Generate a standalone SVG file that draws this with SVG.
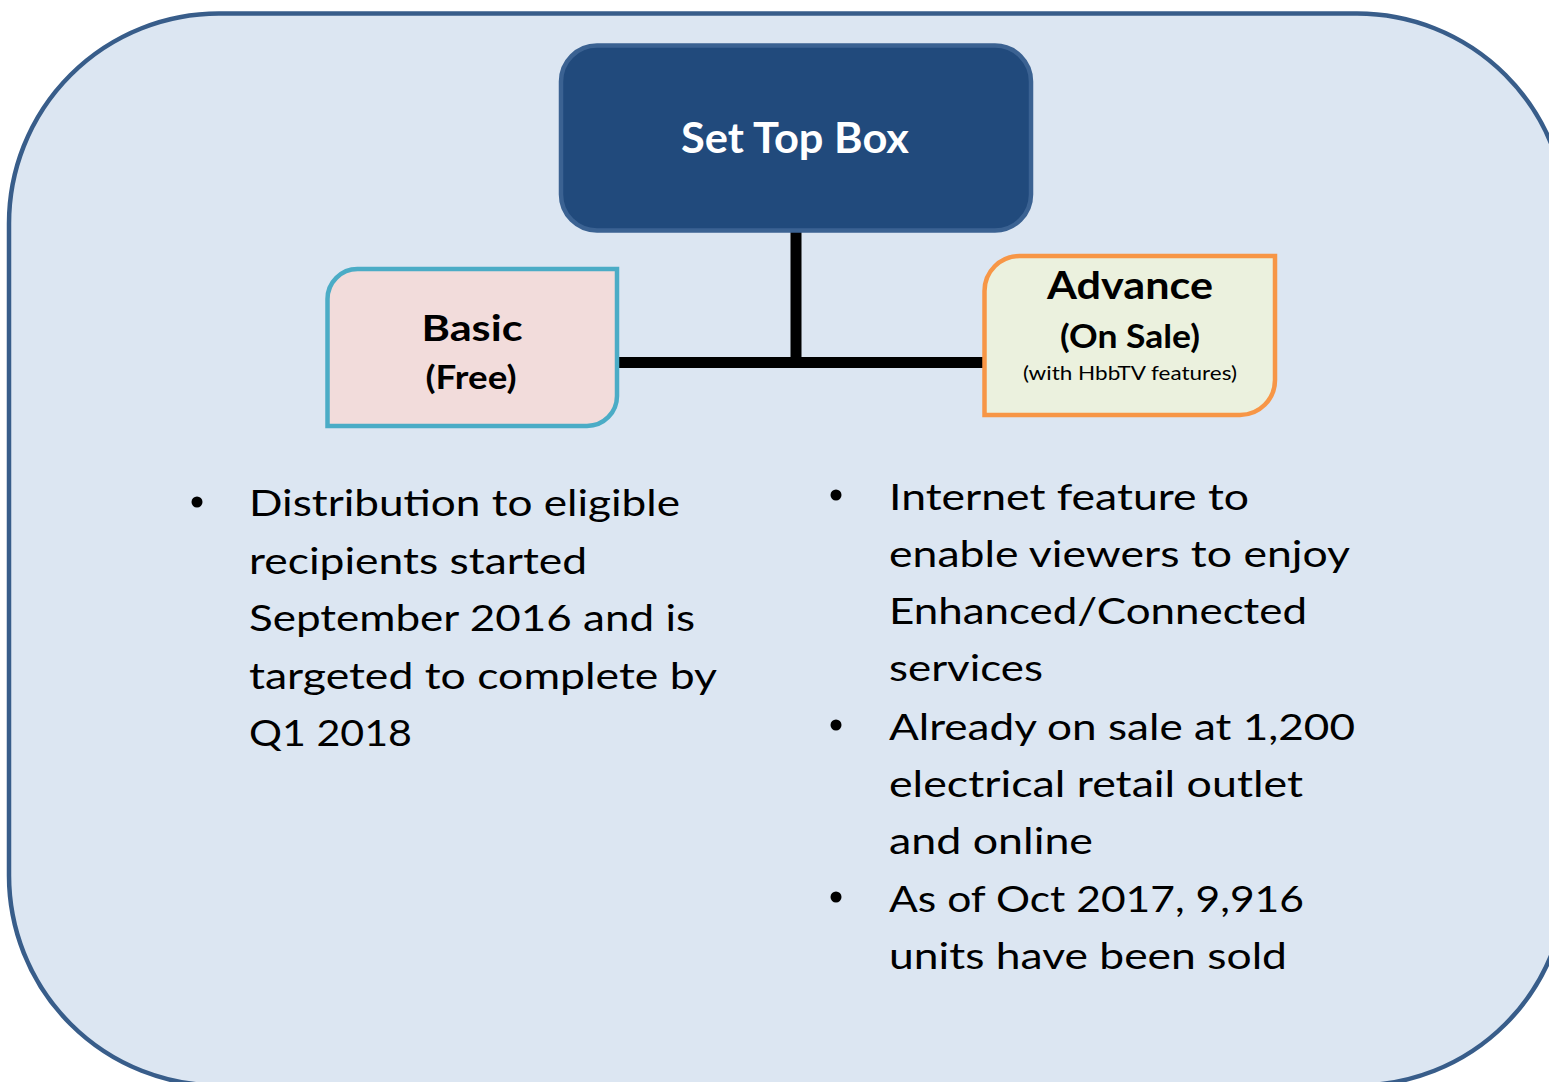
<svg xmlns="http://www.w3.org/2000/svg" width="1549" height="1082" viewBox="0 0 1549 1082">
  <style>
    .body { font-family: Lato, "Open Sans", "Liberation Sans", sans-serif; font-size: 37px; fill: #000000; }
    .bold { font-family: Lato, "Open Sans", "Liberation Sans", sans-serif; font-weight: bold; fill: #000000; }
    .conn { stroke: #000000; stroke-width: 11; fill: none; }
  </style>
  <rect width="1549" height="1082" fill="#FFFFFF"/>
  <g id="frame">
    <rect x="9" y="13.5" width="1558" height="1072" rx="210" ry="210" fill="#DCE6F2" stroke="#385D8A" stroke-width="4.5"/>
  </g>
  <g id="connectors">
    <line class="conn" x1="796" y1="232" x2="796" y2="362.5"/>
    <line class="conn" x1="617" y1="362.5" x2="985" y2="362.5"/>
  </g>
  <g id="node-settopbox">
    <rect x="561" y="45.5" width="470" height="185" rx="36" ry="36" fill="#214A7C" stroke="#3B6292" stroke-width="4.5"/>
    <text x="795" y="153" text-anchor="middle" class="bold" font-size="41.5" style="fill:#FFFFFF" textLength="228" lengthAdjust="spacingAndGlyphs">Set Top Box</text>
  </g>
  <g id="node-basic">
    <path d="M 327.5 299 A 30 30 0 0 1 357.5 269 L 617 269 L 617 396 A 30 30 0 0 1 587 426 L 327.5 426 Z" fill="#F2DCDB" stroke="#4BACC6" stroke-width="4.5"/>
    <text x="472" y="341" text-anchor="middle" class="bold" font-size="36" textLength="101" lengthAdjust="spacingAndGlyphs">Basic</text>
    <text x="471" y="389" text-anchor="middle" class="bold" font-size="32" textLength="91" lengthAdjust="spacingAndGlyphs">(Free)</text>
  </g>
  <g id="node-advance">
    <path d="M 984.5 291 A 35 35 0 0 1 1019.5 256 L 1275 256 L 1275 380 A 35 35 0 0 1 1240 415 L 984.5 415 Z" fill="#EBF1DE" stroke="#F79646" stroke-width="4.5"/>
    <text x="1130" y="299" text-anchor="middle" class="bold" font-size="38" textLength="166" lengthAdjust="spacingAndGlyphs">Advance</text>
    <text x="1130" y="348" text-anchor="middle" class="bold" font-size="33" textLength="140" lengthAdjust="spacingAndGlyphs">(On Sale)</text>
    <text x="1130" y="380" text-anchor="middle" font-family="Lato, 'Open Sans', 'Liberation Sans', sans-serif" font-size="19" fill="#000000" textLength="214" lengthAdjust="spacingAndGlyphs">(with HbbTV features)</text>
  </g>
  <g id="basic-notes">
    <circle cx="197" cy="502" r="5.5" fill="#000000"/>
    <text class="body" x="249" y="516" textLength="431" lengthAdjust="spacingAndGlyphs">Distribution to eligible</text>
    <text class="body" x="249" y="573.5" textLength="338" lengthAdjust="spacingAndGlyphs">recipients started</text>
    <text class="body" x="249" y="631" textLength="446" lengthAdjust="spacingAndGlyphs">September 2016 and is</text>
    <text class="body" x="249" y="688.5" textLength="468" lengthAdjust="spacingAndGlyphs">targeted to complete by</text>
    <text class="body" x="249" y="746" textLength="163" lengthAdjust="spacingAndGlyphs">Q1 2018</text>
  </g>
  <g id="advance-notes">
    <circle cx="836" cy="495" r="5.5" fill="#000000"/>
    <text class="body" x="889" y="510" textLength="360" lengthAdjust="spacingAndGlyphs">Internet feature to</text>
    <text class="body" x="889" y="567" textLength="461" lengthAdjust="spacingAndGlyphs">enable viewers to enjoy</text>
    <text class="body" x="889" y="624" textLength="418" lengthAdjust="spacingAndGlyphs">Enhanced/Connected</text>
    <text class="body" x="889" y="681" textLength="154" lengthAdjust="spacingAndGlyphs">services</text>
    <circle cx="836" cy="725" r="5.5" fill="#000000"/>
    <text class="body" x="889" y="740" textLength="466" lengthAdjust="spacingAndGlyphs">Already on sale at 1,200</text>
    <text class="body" x="889" y="797" textLength="414" lengthAdjust="spacingAndGlyphs">electrical retail outlet</text>
    <text class="body" x="889" y="854" textLength="204" lengthAdjust="spacingAndGlyphs">and online</text>
    <circle cx="836" cy="897" r="5.5" fill="#000000"/>
    <text class="body" x="889" y="912" textLength="415" lengthAdjust="spacingAndGlyphs">As of Oct 2017, 9,916</text>
    <text class="body" x="889" y="969" textLength="398" lengthAdjust="spacingAndGlyphs">units have been sold</text>
  </g>
</svg>
